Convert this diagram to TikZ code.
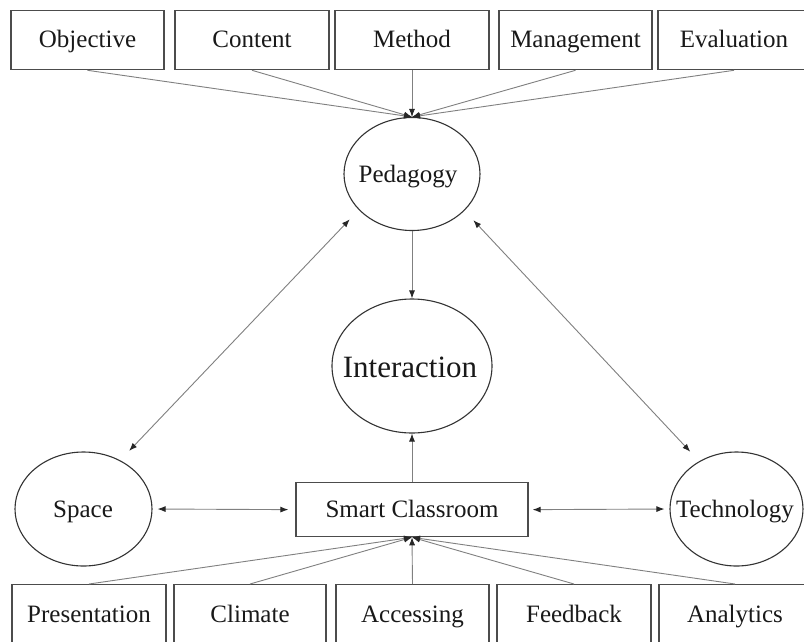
\documentclass[tikz,border=0pt]{standalone}
\usepackage{fontspec}
\setmainfont{Liberation Serif}
\usetikzlibrary{shapes.geometric,arrows.meta}
\begin{document}
\begin{tikzpicture}[x=1pt,y=-1pt,
  lbl/.style={font=\fontsize{25}{30}\selectfont, text=black!90},
  topbox/.style={lbl, draw=black!70, line width=1.3pt, rectangle, inner xsep=0pt, inner ysep=0pt, text height=37pt, text depth=22pt, anchor=north},
  botbox/.style={lbl, draw=black!70, line width=1.3pt, rectangle, inner xsep=0pt, inner ysep=0pt, text height=38pt, text depth=40pt, anchor=north},
  ell/.style={draw=black!80, line width=1.1pt, ellipse, inner sep=0pt},
  conn/.style={draw=black!50, line width=0.9pt},
  tip/.style={-{Latex[length=8pt,width=6pt,color=black!85]}},
  tips/.style={{Latex[length=8pt,width=6pt,color=black!85]}-{Latex[length=8pt,width=6pt,color=black!85]}}
]
\useasboundingbox (0,0) rectangle (804,641);
\fill[white] (0,0) rectangle (804,641);

% top boxes
\node[topbox, minimum width=153pt] (obj) at (87.5,10) {Objective};
\node[topbox, minimum width=154pt] (con) at (252,10) {Content};
\node[topbox, minimum width=154pt] (met) at (412,10) {Method};
\node[topbox, minimum width=153pt] (man) at (575.5,10) {Management};
\node[topbox, minimum width=152pt] (eva) at (734,10) {Evaluation};

% ellipses
\node[ell, minimum width=136pt, minimum height=113pt] (ped) at (412,174) {};
\node[lbl, anchor=base] (pedT) at (408,182) {Pedagogy};
\node[ell, minimum width=160pt, minimum height=134pt] (int) at (412,366) {};
\node[lbl, font=\fontsize{31}{36}\selectfont, anchor=base] (intT) at (410,377) {Interaction};
\node[ell, minimum width=137pt, minimum height=114pt] (spa) at (83.5,509) {};
\node[lbl, anchor=base] (spaT) at (83,517) {Space};
\node[ell, minimum width=133pt, minimum height=114pt] (tec) at (736.5,509) {};
\node[lbl, anchor=base] (tecT) at (735,517) {Technology};

% smart classroom
\node[topbox, minimum width=232pt, text height=35pt, text depth=19pt] (sc) at (412,482) {Smart Classroom};

% bottom boxes
\node[botbox, minimum width=154pt] (pre) at (89,584) {Presentation};
\node[botbox, minimum width=152pt] (cli) at (250,584) {Climate};
\node[botbox, minimum width=153pt] (acc) at (412.5,584) {Accessing};
\node[botbox, minimum width=154pt] (fee) at (574,584) {Feedback};
\node[botbox, minimum width=152pt] (ana) at (735,584) {Analytics};

% top connectors
\foreach \n in {obj,con,met,man,eva}
  \draw[conn, tip] (\n.south) -- (ped.north);
% bottom connectors
\foreach \n in {pre,cli,acc,fee,ana}
  \draw[conn, tip] (\n.north) -- (sc.south);

\draw[conn, tip] (ped.south) -- (int.north);
\draw[conn, tip] (sc.north) -- (int.south);
\draw[conn, tips, shorten <=13pt, shorten >=13pt] (ped.214) -- (spa.53);
\draw[conn, tips, shorten <=13pt, shorten >=13pt] (ped.325) -- (tec.128);
\draw[conn, tips, shorten <=5pt, shorten >=7pt] (spa.east) -- (sc.west);
\draw[conn, tips, shorten <=4pt, shorten >=5pt] (sc.east) -- (tec.west);
\end{tikzpicture}
\end{document}
